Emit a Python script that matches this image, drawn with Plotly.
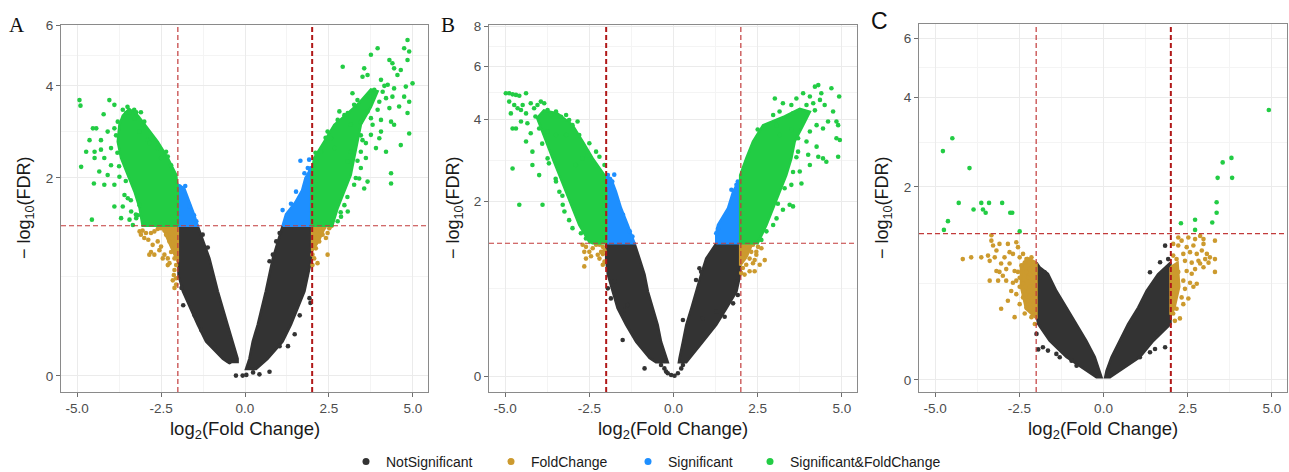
import plotly.graph_objects as go

W, H = 1289, 472

# ---------------- data: (log2 fold change, -log10 FDR) ----------------
categories = ["NotSignificant", "FoldChange", "Significant", "Significant&FoldChange"]
colors = ["#333333", "#CC9A2E", "#1E8FFF", "#22CC44"]
x_ticks = [-5, -2.5, 0, 2.5, 5]
x_tick_labels = ["-5.0", "-2.5", "0.0", "2.5", "5.0"]
y_ticks_a = [0, 2, 4, 6]
y_ticks_b = [0, 2, 4, 6, 8]
y_ticks_c = [0, 2, 4, 6]
fc_cut = 2.0
fdr_cut = 1.301
panel_labels = ["A", "B", "C"]

# ---- Panel A ----
# outlines of the densely packed (overplotted) clusters
a_ns_core_l = [(-2.00, 1.30), (-1.41, 1.30), (-1.06, 0.92), (-0.81, 0.60), (-0.52, 0.33), (-0.37, 0.21), (-0.22, 0.10),
               (-0.22, 0.08), (-0.52, 0.08), (-0.66, 0.10), (-1.16, 0.21), (-1.41, 0.33), (-1.85, 0.60), (-1.98, 0.75)]
a_ns_core_r = [(1.12, 1.30), (1.96, 1.30), (1.98, 0.92), (1.77, 0.60), (1.37, 0.33), (1.12, 0.21), (0.67, 0.10),
               (0.33, 0.04), (0.03, 0.04), (0.13, 0.10), (0.23, 0.21), (0.38, 0.33), (0.62, 0.60), (0.83, 0.92)]
a_ns_pts = [(-1.89, 0.63), (-1.84, 0.48), (-1.50, 0.40), (-1.30, 0.29), (-0.90, 0.17), (-0.46, 0.08), (-0.27, 0.002),
            (-0.07, 0.002), (0.04, 0.006), (0.24, 0.02), (0.43, 0.009), (0.73, 0.024), (1.03, 0.18), (1.28, 0.18),
            (1.48, 0.26), (1.63, 0.40), (1.92, 0.54), (1.95, 0.50), (1.03, 1.21), (0.93, 1.11), (0.73, 0.89),
            (0.83, 0.96), (-1.26, 1.19), (-1.11, 1.04)]
a_fc_core_l = [(-2.0, 1.30), (-2.45, 1.30), (-2.35, 1.18), (-2.15, 1.0), (-2.0, 0.88)]
a_fc_core_r = [(2.0, 1.30), (2.4, 1.30), (2.2, 1.12), (2.0, 1.0)]
a_fc_pts = [(-3.14, 1.23), (-3.05, 1.24), (-3.00, 1.15), (-3.10, 1.19), (-2.88, 1.13), (-2.80, 0.99), (-2.85, 0.96),
            (-2.70, 0.96), (-2.75, 1.07), (-2.60, 1.11), (-2.55, 1.01), (-2.50, 1.05), (-2.45, 0.92), (-2.40, 0.96),
            (-2.35, 1.19), (-2.30, 0.92), (-2.25, 1.11), (-2.20, 1.15), (-2.20, 0.99), (-2.30, 0.85), (-2.25, 0.87),
            (-2.15, 1.07), (-2.10, 0.92), (-2.10, 0.80), (-2.05, 0.85), (-2.05, 0.96), (-2.12, 0.75), (-2.05, 0.72),
            (-2.15, 0.70), (-2.10, 0.63), (-2.05, 0.66), (-2.50, 1.27), (-2.40, 1.24), (-2.30, 1.24), (-2.70, 1.23),
            (-2.60, 1.26), (-2.80, 1.21), (-2.95, 1.21),
            (2.06, 1.24), (2.21, 1.26), (2.36, 1.28), (2.51, 1.27), (2.58, 1.30), (2.46, 1.21), (2.31, 1.19),
            (2.16, 1.15), (2.06, 1.09), (2.21, 1.11), (2.11, 1.03), (2.01, 0.96), (2.46, 0.96), (2.06, 0.92),
            (2.16, 0.87), (2.01, 0.85), (2.26, 1.23), (2.41, 1.15)]
a_sig_core_l = [(-2.0, 1.30), (-1.41, 1.30), (-1.51, 1.44), (-1.66, 1.63), (-1.81, 1.83), (-2.0, 1.89)]
a_sig_core_r = [(1.12, 1.30), (1.96, 1.30), (1.96, 2.2), (1.90, 2.1), (1.80, 2.0), (1.70, 1.80), (1.50, 1.62), (1.22, 1.45)]
a_sig_pts = [(-1.95, 1.86), (-1.78, 1.87), (-1.90, 1.78), (-1.65, 1.56), (-1.52, 1.44), (-1.45, 1.36), (1.65, 2.30),
             (1.91, 2.32), (1.12, 1.51), (1.27, 1.44), (1.37, 1.60), (1.52, 1.78), (1.77, 2.08), (1.87, 2.17)]
a_sfc_core_l = [(-2.0, 1.30), (-2.0, 1.78), (-2.05, 2.05), (-2.30, 2.35), (-2.60, 2.67), (-3.00, 3.03), (-3.19, 3.24),
                (-3.45, 3.40), (-3.64, 3.24), (-3.74, 3.03), (-3.79, 2.67), (-3.69, 2.35), (-3.49, 2.05),
                (-3.29, 1.78), (-3.14, 1.54), (-3.05, 1.30)]
a_sfc_core_r = [(1.98, 1.30), (2.6, 1.30), (2.76, 1.54), (2.96, 1.78), (3.15, 2.05), (3.25, 2.35), (3.35, 2.67),
                (3.45, 3.03), (3.75, 3.45), (3.95, 3.85), (3.75, 3.90), (3.40, 3.55), (3.00, 3.25), (2.66, 3.03),
                (2.36, 2.67), (2.06, 2.35), (1.98, 2.05)]
a_sfc_pts = [(-4.93, 3.62), (-4.90, 3.48), (-4.04, 3.62), (-3.89, 3.50), (-4.21, 3.27), (-3.64, 3.38), (-3.54, 3.30),
             (-3.44, 3.32), (-3.24, 3.32), (-3.10, 3.32), (-3.29, 3.18), (-3.05, 3.03), (-3.00, 3.10), (-3.14, 2.88),
             (-2.90, 2.70), (-2.85, 2.64), (-2.60, 2.54), (-2.35, 2.47), (-2.30, 2.38), (-2.20, 2.22), (-2.50, 2.35),
             (-4.53, 2.95), (-4.43, 2.95), (-4.63, 2.70), (-4.73, 2.47), (-4.48, 2.47), (-4.29, 2.51), (-4.19, 2.35),
             (-3.99, 2.54), (-3.99, 2.22), (-4.48, 2.35), (-4.88, 2.19), (-4.50, 1.91), (-4.09, 2.05), (-3.89, 1.89),
             (-3.89, 1.56), (-3.64, 1.56), (-3.69, 1.40), (-3.44, 1.38), (-3.34, 1.31), (-4.56, 1.38), (-3.49, 1.68),
             (-3.24, 1.40), (-3.19, 1.44), (-3.39, 1.49), (-3.14, 1.58), (-4.29, 2.70), (-4.09, 2.88), (-3.89, 2.95),
             (-3.79, 3.10), (-4.34, 2.11), (-4.19, 1.89), (-3.59, 1.73), (-3.74, 2.02), (-3.84, 2.80), (-3.80, 2.45),
             (-3.75, 2.20), (-3.55, 1.95), (-3.40, 1.65), (-3.25, 1.45), (-3.50, 3.45), (-3.30, 3.38),
             (4.84, 5.45), (4.74, 5.16), (4.89, 5.05), (4.84, 4.77), (3.95, 5.16), (3.75, 4.94), (2.91, 4.56),
             (3.55, 4.51), (3.50, 4.26), (3.65, 4.31), (4.05, 4.17), (4.30, 4.77), (4.39, 4.67), (4.44, 4.51),
             (4.64, 4.46), (4.54, 4.31), (4.25, 4.03), (4.99, 4.07), (4.44, 3.93), (3.85, 3.89), (4.10, 3.84),
             (3.20, 3.80), (3.35, 3.62), (3.70, 3.71), (4.00, 3.58), (4.20, 3.67), (4.39, 3.71), (4.74, 3.71),
             (4.89, 3.58), (4.84, 3.30), (4.59, 3.46), (4.30, 3.42), (3.95, 3.38), (3.65, 3.34), (3.25, 3.50),
             (3.06, 3.30), (2.81, 3.34), (2.76, 3.14), (3.15, 3.03), (3.45, 3.10), (3.75, 3.18), (4.05, 3.14),
             (4.35, 3.10), (4.44, 3.03), (4.89, 2.84), (4.64, 2.60), (4.05, 2.88), (3.75, 2.81), (3.60, 2.64),
             (3.90, 2.54), (4.20, 2.47), (3.60, 2.35), (3.45, 2.17), (3.65, 1.94), (3.55, 1.83), (4.35, 2.08),
             (4.35, 1.91), (3.25, 1.89), (3.06, 1.49), (2.86, 1.42), (2.46, 2.88), (2.56, 2.74), (2.66, 2.54),
             (3.06, 2.29), (3.15, 2.47), (3.45, 2.47), (2.26, 2.47), (2.16, 2.35), (2.96, 3.25), (3.50, 2.70),
             (4.00, 2.74), (3.40, 1.99), (2.96, 1.58), (2.76, 1.36), (3.80, 3.03), (4.79, 3.98), (3.35, 2.30),
             (3.45, 2.80), (3.30, 2.00), (3.05, 1.70), (2.85, 1.48), (2.40, 2.75), (2.10, 2.45), (4.15, 4.00)]

# ---- Panel B ----
b_ns_core_l = [(-2.0, 1.30), (-1.16, 1.30), (-1.01, 1.09), (-0.86, 0.89), (-0.76, 0.70), (-0.62, 0.53), (-0.47, 0.38),
               (-0.37, 0.24), (-0.22, 0.12), (-0.17, 0.09), (-0.52, 0.09), (-0.71, 0.12), (-1.11, 0.24), (-1.41, 0.38),
               (-1.66, 0.53), (-1.81, 0.70), (-1.95, 0.89), (-2.0, 1.09)]
b_ns_core_r = [(1.27, 1.30), (1.98, 1.30), (1.98, 0.89), (1.87, 0.70), (1.57, 0.53), (1.27, 0.38), (0.87, 0.24),
               (0.48, 0.12), (0.38, 0.09), (0.16, 0.09), (0.18, 0.12), (0.28, 0.24), (0.38, 0.38), (0.53, 0.53),
               (0.67, 0.70), (0.82, 0.89), (0.97, 1.09)]
b_ns_pts = [(-0.37, 0.072), (-0.27, 0.049), (-0.17, 0.017), (-0.07, 0.006), (0.03, 0.002), (0.13, 0.017),
            (0.23, 0.049), (0.28, 0.072), (-0.22, 0.028), (-0.86, 0.049), (-1.51, 0.254), (-1.46, 0.513),
            (-1.36, 0.562), (-1.76, 0.808), (-1.86, 0.628), (-1.95, 0.734), (0.28, 0.421), (0.87, 0.436),
            (1.27, 0.497), (1.52, 0.451), (1.77, 0.578), (1.91, 0.663), (1.87, 0.808), (1.96, 0.925),
            (0.67, 0.827), (0.82, 0.925), (0.77, 0.966)]
b_fc_core_l = []
b_fc_core_r = [(1.98, 1.30), (2.35, 1.30), (2.15, 1.1), (1.98, 1.0)]
b_fc_pts = [(-2.70, 1.28), (-2.65, 1.18), (-2.60, 1.09), (-2.65, 0.99), (-2.50, 1.18), (-2.40, 1.23), (-2.30, 1.28),
            (-2.25, 1.14), (-2.20, 1.09), (-2.15, 1.18), (-2.10, 1.25), (-2.05, 1.05), (-2.10, 1.01), (-2.20, 1.28),
            (-2.45, 1.12), (-2.60, 1.25), (-2.05, 1.20), (-2.10, 1.15),
            (2.06, 1.28), (2.21, 1.25), (2.36, 1.28), (2.51, 1.25), (2.61, 1.23), (2.46, 1.14), (2.31, 1.18),
            (2.16, 1.14), (2.06, 1.09), (2.26, 1.09), (2.41, 1.07), (2.71, 1.07), (2.56, 1.01), (2.16, 1.01),
            (2.06, 0.97), (2.26, 0.93), (2.41, 0.93), (2.11, 0.89), (2.01, 0.91), (2.46, 1.18), (2.36, 1.03)]
b_sig_core_l = [(-2.0, 1.30), (-1.16, 1.30), (-1.36, 1.58), (-1.56, 1.87), (-1.71, 2.18), (-1.86, 2.46), (-2.0, 2.5)]
b_sig_core_r = [(1.27, 1.30), (1.98, 1.30), (1.98, 2.40), (1.90, 2.35), (1.77, 2.18), (1.62, 1.87), (1.32, 1.58),
                (1.27, 1.45)]
b_sig_pts = [(-1.95, 2.53), (-1.76, 2.54), (-1.82, 2.39), (-1.50, 1.75), (-1.30, 1.48), (-1.22, 1.40),
             (1.72, 2.22), (1.87, 2.32), (1.91, 2.39), (1.27, 1.45), (1.32, 1.52)]
b_sfc_core_l = [(-2.0, 1.30), (-2.0, 2.18), (-2.05, 2.53), (-2.40, 2.92), (-2.70, 3.36), (-3.0, 3.83), (-3.45, 4.20),
                (-3.85, 4.30), (-4.05, 4.05), (-3.79, 3.36), (-3.59, 2.92), (-3.39, 2.53), (-3.19, 2.18),
                (-3.0, 1.87), (-2.80, 1.58), (-2.5, 1.32), (-2.4, 1.30)]
b_sfc_core_r = [(1.98, 1.30), (2.5, 1.30), (2.76, 1.58), (2.96, 1.87), (3.15, 2.18), (3.35, 2.53), (3.50, 2.92),
                (3.60, 3.36), (3.85, 3.83), (4.05, 4.25), (3.75, 4.35), (3.30, 4.10), (2.66, 3.83), (2.36, 3.36),
                (2.16, 2.92), (1.98, 2.53)]
b_sfc_pts = [(-4.98, 4.90), (-4.88, 4.90), (-4.78, 4.86), (-4.68, 4.84), (-4.58, 4.81), (-4.38, 4.90), (-4.88, 4.60),
             (-4.73, 4.48), (-4.83, 4.20), (-4.63, 4.37), (-4.48, 4.48), (-4.38, 4.20), (-4.53, 4.31), (-4.24, 4.54),
             (-4.14, 4.37), (-4.04, 4.48), (-3.94, 4.60), (-3.84, 4.54), (-3.74, 4.31), (-3.64, 4.15), (-3.49, 4.26),
             (-3.34, 4.09), (-3.19, 4.15), (-3.10, 3.99), (-2.85, 3.94), (-3.00, 3.83), (-4.78, 3.73), (-4.68, 3.73),
             (-4.53, 3.94), (-4.34, 3.89), (-4.24, 3.59), (-4.38, 3.36), (-3.99, 3.73), (-3.74, 3.64), (-3.49, 3.54),
             (-3.19, 3.54), (-2.80, 3.54), (-2.50, 3.31), (-2.30, 3.09), (-2.20, 2.96), (-2.05, 2.76), (-4.78, 2.68),
             (-4.19, 2.76), (-3.99, 2.53), (-3.89, 1.93), (-4.58, 1.93), (-3.49, 2.39), (-3.39, 2.18), (-3.29, 1.93),
             (-3.24, 1.81), (-3.10, 1.66), (-3.00, 1.53), (-2.75, 1.45), (-2.60, 1.37), (-2.90, 2.76), (-2.70, 2.92),
             (-4.19, 3.09), (-3.74, 2.92), (-3.90, 3.30), (-3.70, 2.80), (-3.50, 2.45), (-3.30, 2.10), (-4.10, 4.10),
             (-2.55, 3.00),
             (4.30, 5.21), (4.20, 5.15), (4.69, 5.09), (4.39, 4.90), (4.92, 4.78), (3.85, 4.90), (4.05, 4.78),
             (3.65, 4.71), (3.01, 4.71), (3.25, 4.54), (3.50, 4.48), (3.95, 4.48), (4.15, 4.54), (4.35, 4.66),
             (4.49, 4.48), (4.74, 4.26), (4.84, 3.94), (4.89, 3.83), (4.94, 3.40), (4.89, 2.96), (4.44, 3.73),
             (4.25, 3.83), (4.05, 3.64), (3.85, 3.94), (3.55, 4.20), (3.15, 4.26), (2.96, 4.15), (3.06, 3.83),
             (3.15, 3.54), (3.50, 3.69), (3.70, 3.45), (3.95, 3.36), (4.25, 3.22), (4.44, 2.92), (4.54, 2.84),
             (4.05, 2.76), (3.75, 2.61), (3.80, 2.35), (3.50, 2.32), (3.45, 1.93), (3.55, 1.90), (3.25, 1.84),
             (3.06, 1.69), (2.96, 1.58), (2.76, 1.48), (2.61, 1.35), (4.30, 2.96), (4.00, 3.01), (4.84, 3.45),
             (4.59, 3.94), (3.70, 3.09), (3.65, 2.95), (3.55, 2.60), (3.30, 2.25), (3.10, 1.95), (4.20, 4.30),
             (2.50, 3.70)]

# ---- Panel C ----
c_ns_core_l = [(-1.99, 0.95), (-1.90, 0.90), (-1.65, 0.83), (-1.40, 0.66), (-1.10, 0.51), (-0.80, 0.375),
               (-0.51, 0.25), (-0.26, 0.14), (-0.11, 0.054), (-0.06, 0.015), (-0.21, 0.015), (-0.51, 0.054),
               (-1.10, 0.14), (-1.60, 0.25), (-1.94, 0.375), (-1.99, 0.45)]
c_ns_core_r = [(1.63, 0.83), (1.90, 0.92), (1.99, 0.95), (1.99, 0.375), (1.48, 0.25), (1.08, 0.14), (0.49, 0.054),
               (0.19, 0.015), (0.05, 0.015), (0.09, 0.054), (0.24, 0.14), (0.49, 0.25), (0.73, 0.375), (1.03, 0.51),
               (1.28, 0.66)]
c_ns_pts = [(-1.75, 0.846), (-1.89, 0.794), (-1.99, 0.30), (-1.94, 0.19), (-1.80, 0.205), (-1.65, 0.182),
            (-1.40, 0.16), (-1.30, 0.138), (-0.95, 0.116), (-0.80, 0.085), (1.83, 1.148), (1.68, 0.954),
            (1.92, 0.99), (1.38, 0.846), (1.58, 0.30), (1.83, 0.205), (1.53, 0.193), (1.38, 0.171), (1.08, 0.138)]
c_fc_core_l = [(-1.99, 0.95), (-2.25, 1.0), (-2.45, 0.9), (-2.45, 0.7), (-2.30, 0.5), (-1.99, 0.42)]
c_fc_core_r = [(1.99, 0.9), (2.2, 0.95), (2.25, 0.7), (2.1, 0.5), (1.99, 0.45)]
c_fc_pts = [(-3.33, 1.28), (-3.33, 1.21), (-3.28, 1.15), (-3.18, 1.09), (-3.43, 1.03), (-3.63, 1.01), (-3.93, 1.01),
            (-4.18, 0.99), (-3.38, 0.97), (-3.09, 1.17), (-2.84, 1.17), (-2.59, 1.19), (-2.54, 1.13), (-2.79, 1.07),
            (-2.94, 1.01), (-2.69, 1.05), (-2.49, 1.01), (-2.39, 1.05), (-2.29, 0.99), (-2.19, 0.95), (-2.09, 0.94),
            (-3.04, 0.94), (-2.89, 0.88), (-3.09, 0.85), (-2.99, 0.81), (-3.38, 0.76), (-3.13, 0.76), (-2.89, 0.76),
            (-2.69, 0.74), (-2.49, 0.79), (-2.29, 0.85), (-2.19, 0.88), (-2.09, 0.85), (-2.04, 0.79), (-2.39, 0.73),
            (-2.19, 0.70), (-2.04, 0.66), (-2.74, 0.66), (-2.59, 0.63), (-2.39, 0.60), (-2.19, 0.62), (-2.84, 0.57),
            (-2.49, 0.54), (-2.29, 0.51), (-2.09, 0.54), (-2.04, 0.46), (-2.14, 0.43), (-2.64, 0.43), (-3.04, 0.50),
            (-2.34, 0.46), (-2.04, 0.375), (-2.24, 0.79), (-2.34, 0.66), (-2.49, 0.70), (-2.79, 0.94), (-2.64, 0.86),
            (-2.24, 0.57), (-2.09, 0.48), (-2.59, 0.76), (-3.18, 0.86), (-2.44, 0.92), (-2.54, 0.85), (-2.34, 0.95),
            (-2.14, 1.01), (-3.23, 1.01),
            (2.22, 1.25), (2.32, 1.21), (2.52, 1.25), (2.72, 1.23), (2.87, 1.27), (2.97, 1.23), (2.97, 1.17),
            (3.31, 1.21), (2.07, 1.17), (2.22, 1.15), (2.47, 1.13), (2.67, 1.15), (2.92, 1.09), (2.77, 1.05),
            (2.57, 1.07), (2.37, 1.05), (2.07, 1.03), (2.17, 0.99), (2.42, 0.97), (2.62, 0.95), (2.87, 0.94),
            (3.02, 0.99), (3.12, 0.95), (3.16, 1.01), (3.31, 0.99), (2.97, 0.90), (2.72, 0.88), (2.47, 0.86),
            (2.22, 0.85), (2.07, 0.90), (2.12, 0.78), (2.37, 0.76), (2.57, 0.74), (2.77, 0.73), (2.67, 0.70),
            (2.42, 0.68), (2.17, 0.66), (2.07, 0.62), (2.32, 0.60), (2.52, 0.59), (2.37, 0.54), (2.17, 0.50),
            (2.07, 0.46), (2.27, 0.42), (2.12, 0.40), (3.31, 0.85), (2.07, 0.73), (2.62, 0.83), (2.82, 0.97),
            (3.07, 1.05)]
c_sig_core_l = []
c_sig_core_r = []
c_sig_pts = []
c_sfc_core_l = []
c_sfc_core_r = []
c_sfc_pts = [(-4.77, 2.68), (-4.49, 2.96), (-3.98, 2.34), (-4.30, 1.74), (-4.62, 1.47), (-4.74, 1.35), (-3.86, 1.64),
             (-3.63, 1.74), (-3.40, 1.74), (-3.58, 1.64), (-3.50, 1.59), (-3.01, 1.74), (-2.77, 1.59), (-2.71, 1.59),
             (-2.49, 1.33),
             (4.91, 3.65), (3.54, 2.45), (3.80, 2.54), (3.39, 2.16), (3.82, 2.16), (3.36, 1.75), (3.36, 1.59),
             (3.23, 1.45), (2.72, 1.49), (2.72, 1.35), (2.30, 1.44)]

# ---------------- layout geometry ----------------
x_range = [-5.48, 5.45]
y_ranges = [[-0.0386, 0.8456], [-0.0436, 0.957], [-0.0297, 0.880]]   # log10(1 + y)
x_domains = [[61 / W, 428 / W], [489 / W, 857 / W], [919 / W, 1287 / W]]
y_domains = [[1 - 392 / H, 1 - 25 / H], [1 - 392 / H, 1 - 25 / H], [1 - 392 / H, 1 - 24 / H]]
thick_side = [1, -1, 1]

panels = [
    ([a_ns_core_l, a_ns_core_r], a_ns_pts, [a_fc_core_l, a_fc_core_r], a_fc_pts,
     [a_sig_core_l, a_sig_core_r], a_sig_pts, [a_sfc_core_l, a_sfc_core_r], a_sfc_pts, y_ticks_a),
    ([b_ns_core_l, b_ns_core_r], b_ns_pts, [b_fc_core_l, b_fc_core_r], b_fc_pts,
     [b_sig_core_l, b_sig_core_r], b_sig_pts, [b_sfc_core_l, b_sfc_core_r], b_sfc_pts, y_ticks_b),
    ([c_ns_core_l, c_ns_core_r], c_ns_pts, [c_fc_core_l, c_fc_core_r], c_fc_pts,
     [c_sig_core_l, c_sig_core_r], c_sig_pts, [c_sfc_core_l, c_sfc_core_r], c_sfc_pts, y_ticks_c),
]


def xy(pts):
    # y axis is log10(1 + y): plot (1 + y) on a log axis
    return [p[0] for p in pts], [p[1] + 1 for p in pts]


fig = go.Figure()
MS = 4.6

for i, pan in enumerate(panels):
    xa = "x" if i == 0 else f"x{i + 1}"
    ya = "y" if i == 0 else f"y{i + 1}"
    groups = [(pan[0], pan[1]), (pan[2], pan[3]), (pan[4], pan[5]), (pan[6], pan[7])]
    for k, (cores, pts) in enumerate(groups):
        col = colors[k]
        for core in cores:
            if not core:
                continue
            cx, cy = xy(core + [core[0]])
            fig.add_trace(go.Scatter(x=cx, y=cy, xaxis=xa, yaxis=ya, mode="lines", fill="toself",
                                     fillcolor=col, line=dict(color=col, width=2.5),
                                     hoverinfo="skip", showlegend=False))
        if pts:
            px, py = xy(pts)
            fig.add_trace(go.Scatter(x=px, y=py, xaxis=xa, yaxis=ya, mode="markers",
                                     marker=dict(color=col, size=MS, line=dict(width=0)),
                                     name=categories[k], showlegend=False))
    # threshold lines
    y_lo, y_hi = 10 ** y_ranges[i][0], 10 ** y_ranges[i][1]
    for s in (-1, 1):
        thick = (s == thick_side[i])
        fig.add_trace(go.Scatter(x=[s * fc_cut, s * fc_cut], y=[y_lo, y_hi], xaxis=xa, yaxis=ya, mode="lines",
                                 line=dict(color="#B01818" if thick else "#C23B3B", width=2.0 if thick else 1.2,
                                           dash="5px,3px"),
                                 hoverinfo="skip", showlegend=False))
    fig.add_trace(go.Scatter(x=x_range, y=[fdr_cut + 1, fdr_cut + 1], xaxis=xa, yaxis=ya, mode="lines",
                             line=dict(color="#C23B3B", width=1.2, dash="5px,3px"),
                             hoverinfo="skip", showlegend=False))

# legend entries (one legend per entry so each sits where the reference puts it)
legend_x_px = [346, 491, 628, 750]
for k, cat in enumerate(categories):
    lg = "legend" if k == 0 else f"legend{k + 1}"
    fig.add_trace(go.Scatter(x=[None], y=[None], mode="markers", name=cat,
                             marker=dict(color=colors[k], size=7), showlegend=True, legend=lg))

axis_style = dict(showline=True, mirror=True, linecolor="#8A8A8A", linewidth=1, automargin=False,
                  ticks="outside", ticklen=4, tickcolor="#6E6E6E", tickwidth=1,
                  tickfont=dict(size=13.5, color="#4D4D4D", family="Liberation Sans, Arial, sans-serif"),
                  showgrid=True, gridcolor="#EBEBEB", gridwidth=1.1, zeroline=False)

x_minor = [(a + b) / 2 for a, b in zip(x_ticks[:-1], x_ticks[1:])]

layout = dict(width=W, height=H, margin=dict(l=0, r=0, t=0, b=0, autoexpand=False),
              paper_bgcolor="white", plot_bgcolor="white",
              font=dict(family="Liberation Sans, Arial, sans-serif", color="#1A1A1A"))

for i, pan in enumerate(panels):
    yt = pan[8]
    y_minor = [((a + 1) * (b + 1)) ** 0.5 for a, b in zip(yt[:-1], yt[1:])]
    xk = "xaxis" if i == 0 else f"xaxis{i + 1}"
    yk = "yaxis" if i == 0 else f"yaxis{i + 1}"
    layout[xk] = dict(axis_style, domain=x_domains[i], range=x_range, anchor="y" if i == 0 else f"y{i + 1}",
                      tickmode="array", tickvals=x_ticks, ticktext=x_tick_labels,
                      minor=dict(tickvals=x_minor, showgrid=True, gridcolor="#F4F4F4", gridwidth=0.6, ticks=""))
    layout[yk] = dict(axis_style, domain=y_domains[i], range=y_ranges[i], type="log",
                      anchor="x" if i == 0 else f"x{i + 1}",
                      tickmode="array", tickvals=[v + 1 for v in yt], ticktext=[str(v) for v in yt],
                      minor=dict(tickvals=y_minor, showgrid=True, gridcolor="#F4F4F4", gridwidth=0.6, ticks=""))

for k in range(4):
    lg = "legend" if k == 0 else f"legend{k + 1}"
    layout[lg] = dict(orientation="h", x=legend_x_px[k] / W, xanchor="left", y=10 / H, yanchor="middle",
                      bgcolor="rgba(0,0,0,0)", borderwidth=0,
                      font=dict(size=14, color="#1A1A1A", family="Liberation Sans, Arial, sans-serif"))

fig.update_layout(**layout)

annotations = []
x_title_px = [245, 673, 1103]
y_title_px = [26, 455, 884]
label_pos = [(17, 25, "Liberation Serif, Times New Roman, serif", 21),
             (448, 25, "Liberation Serif, Times New Roman, serif", 21),
             (879, 21, "Liberation Sans, Arial, sans-serif", 23)]
for i in range(3):
    annotations.append(dict(text="log<sub>2</sub>(Fold Change)", x=x_title_px[i] / W, y=1 - 430 / H,
                            xref="paper", yref="paper", showarrow=False, xanchor="center", yanchor="middle",
                            font=dict(size=18.5, color="#1A1A1A")))
    annotations.append(dict(text="− log<sub>10</sub>(FDR)", x=y_title_px[i] / W, y=1 - 208 / H,
                            xref="paper", yref="paper", showarrow=False, textangle=-90,
                            xanchor="center", yanchor="middle", font=dict(size=18, color="#1A1A1A")))
    lx, ly, fam, fs = label_pos[i]
    annotations.append(dict(text=panel_labels[i], x=lx / W, y=1 - ly / H, xref="paper", yref="paper",
                            showarrow=False, xanchor="center", yanchor="middle",
                            font=dict(size=fs, color="#111111", family=fam)))
fig.update_layout(annotations=annotations)

fig.write_html("out.html", config={"displayModeBar": False},
               post_script="document.body.style.margin='0px';")
